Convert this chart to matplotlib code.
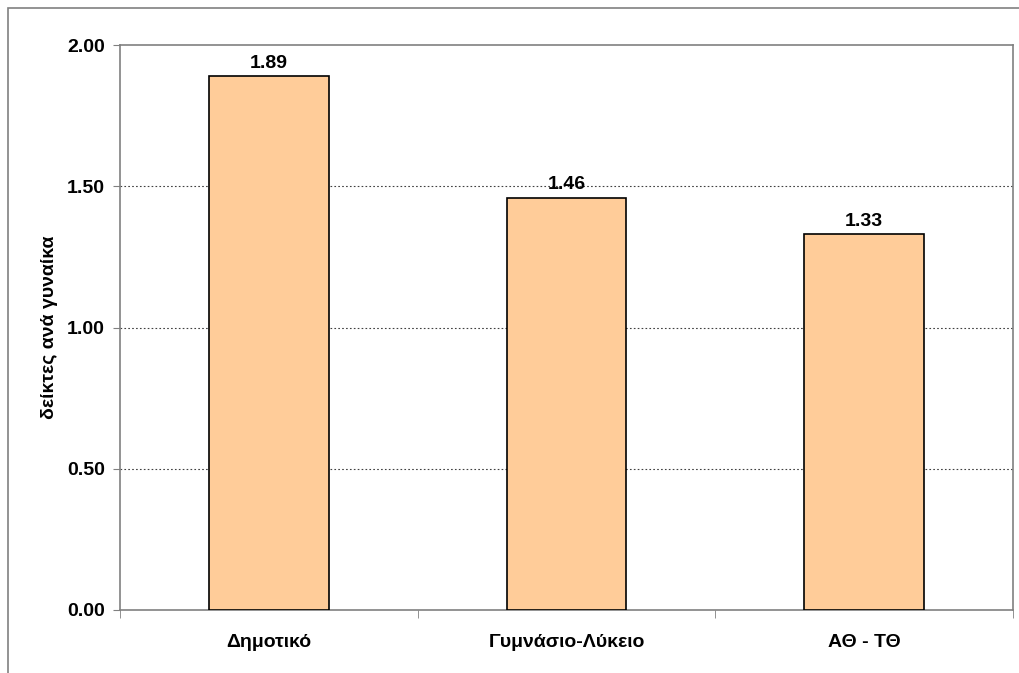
import matplotlib
matplotlib.use("Agg")
import matplotlib.pyplot as plt
import numpy as np

# data
categories = ['Δημοτικό', 'Γυμνάσιο-Λύκειο', 'ΑΘ - ΤΘ']
values = [1.89, 1.46, 1.33]
yticks = [0.0, 0.5, 1.0, 1.5, 2.0]
ylabel = 'δείκτες ανά γυναίκα'

plt.rcParams['font.family'] = ['Liberation Sans', 'DejaVu Sans']
plt.rcParams['font.weight'] = 'bold'
fs = 14

fig = plt.figure(figsize=(10.2, 6.73), dpi=100)
ax = fig.add_axes([120 / 1020, 1 - 610 / 673, (1013 - 120) / 1020, (610 - 45) / 673])

x = np.arange(len(categories))
bars = ax.bar(x, values, width=0.403, color='#FFCC99', edgecolor='black', linewidth=1.2, zorder=3)

for b, v in zip(bars, values):
    ax.text(b.get_x() + b.get_width() / 2, v + 0.015, f'{v:.2f}',
            ha='center', va='bottom', fontsize=fs, fontweight='bold')

ax.set_xlim(-0.5, len(categories) - 0.5)
ax.set_ylim(0, 2.0)
ax.set_yticks(yticks)
ax.set_yticklabels([f'{t:.2f}' for t in yticks], fontsize=fs, fontweight='bold')
ax.set_xticks(x)
ax.set_xticklabels(categories, fontsize=fs, fontweight='bold')
ax.tick_params(axis='x', length=0, pad=17)
ax.tick_params(axis='y', length=5, color='#808080', pad=6)

# category boundary ticks on x axis
ax.set_xticks(np.arange(len(categories) + 1) - 0.5, minor=True)
ax.tick_params(axis='x', which='minor', length=6, color='#808080')

for t in yticks[1:-1]:
    ax.axhline(t, color='#404040', linestyle=(0, (1.5, 2)), linewidth=0.8, zorder=1)

for s in ax.spines.values():
    s.set_color('#808080')
    s.set_linewidth(1.2)

ax.set_ylabel(ylabel, fontsize=fs, fontweight='bold', labelpad=6)

# outer chart frame
fig.patches.append(plt.Rectangle((8 / 1020, -0.01), 1.02, 1 - 8 / 673 + 0.01,
                                 transform=fig.transFigure, fill=False,
                                 edgecolor='#808080', linewidth=1.2))

fig.savefig('out.png', dpi=100)
